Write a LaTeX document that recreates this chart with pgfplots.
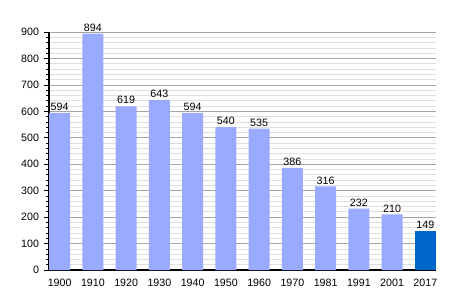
\documentclass[border=0pt]{standalone}
\usepackage{pgfplots}
\pgfplotsset{compat=1.18}
\usepackage{fontspec}
\setmainfont{Liberation Sans}
\definecolor{barlight}{HTML}{99AAFF}
\definecolor{bardark}{HTML}{0066CC}
\begin{document}
\begin{tikzpicture}[x=1pt,y=1pt]
\useasboundingbox (-36.75,-22.5) rectangle (311.25,202.5);
\begin{axis}[
  at={(0,0)}, anchor=south west,
  scale only axis,
  width=290.25pt, height=178.5pt,
  xmin=-0.32, xmax=11.32,
  ymin=0, ymax=900,
  axis x line*=bottom, axis y line*=left,
  xtick={0,...,11},
  xticklabels={1900,1910,1920,1930,1940,1950,1960,1970,1981,1991,2001,2017},
  x tick style={draw=none},
  ytick={0,100,...,900},
  minor y tick num=4,
  ymajorgrids, yminorgrids,
  major grid style={gray!70, line width=0.5pt},
  minor grid style={gray!25, line width=0.5pt},
  y tick style={black, line width=0.5pt},
  tick align=outside,
  major tick length=4pt,
  minor tick length=2pt,
  axis line style={black, line width=0.8pt},
  tick label style={font=\fontsize{8}{9}\selectfont},
  /pgf/number format/assume math mode=true,
  /pgf/number format/1000 sep={},
  xticklabel style={yshift=1pt},
  ybar, bar width=15.8pt, bar shift=0pt,
  nodes near coords,
  nodes near coords style={font=\fontsize{8}{9}\selectfont, /pgf/number format/assume math mode=true, inner sep=1.5pt},
  clip=false,
]
\addplot[fill=barlight, draw=none] coordinates {(0,594) (1,894) (2,619) (3,643) (4,594) (5,540) (6,535) (7,386) (8,316) (9,232) (10,210)};
\addplot[fill=bardark, draw=none] coordinates {(11,149)};
\end{axis}
\end{tikzpicture}
\end{document}
